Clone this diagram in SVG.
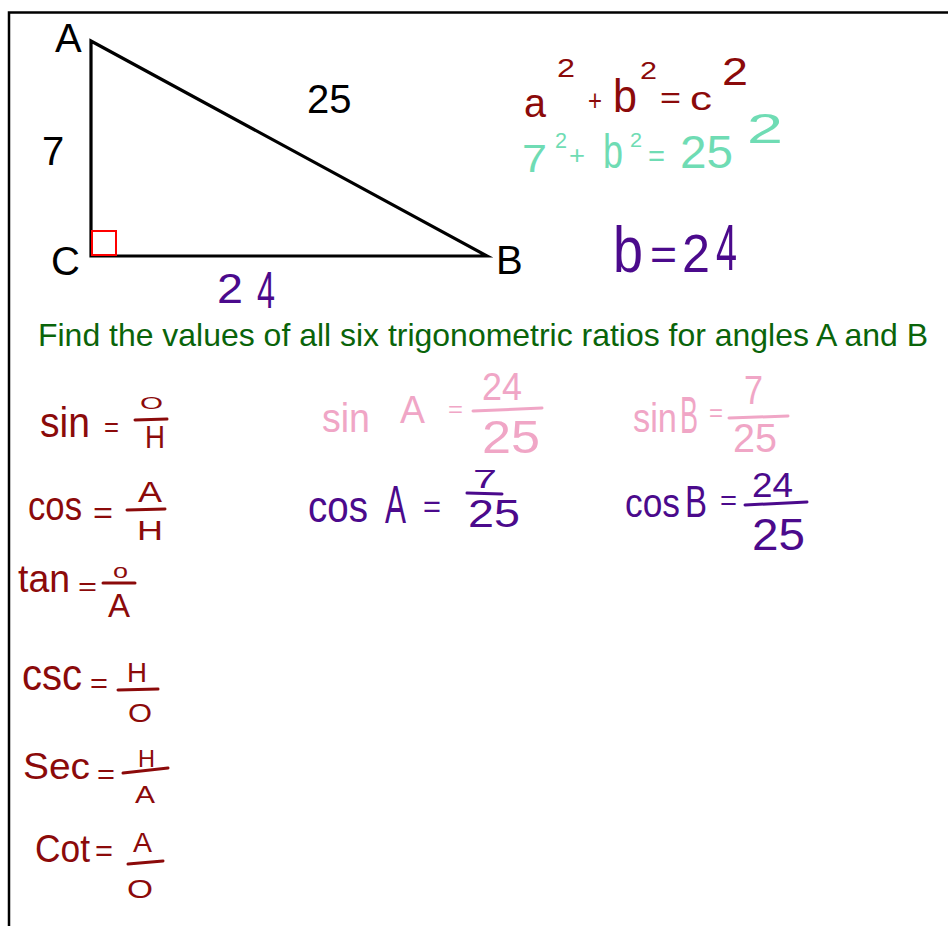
<svg xmlns="http://www.w3.org/2000/svg" width="948" height="926" viewBox="0 0 948 926">
<style>
text{font-family:"Liberation Sans",Arial,sans-serif;}
.lbl{font-size:40px;fill:#000;}
.red{fill:#8b0a0a;}
.teal{fill:#6fdcb4;}
.pur{fill:#4b0a8c;}
.pink{fill:#f0a6c6;}
.bar{fill:none;stroke-width:3;stroke-linecap:round;}
.bred{stroke:#8b0a0a;}
.bpur{stroke:#4b0a8c;}
.bpink{stroke:#f0a6c6;}
</style>
<rect width="948" height="926" fill="#fff"/>
<path d="M9,926 V12.5 H948" fill="none" stroke="#000" stroke-width="2.5"/>

<g id="triangle">
<path d="M91,41 L91,256 L487,256 Z" fill="none" stroke="#000" stroke-width="3.2" stroke-linejoin="miter" stroke-miterlimit="6"/>
<rect x="92" y="231" width="24" height="24" fill="none" stroke="#f00" stroke-width="2"/>
<text class="lbl" x="55" y="52">A</text>
<text class="lbl" x="42" y="165">7</text>
<text class="lbl" x="51" y="275">C</text>
<text class="lbl" x="496" y="274">B</text>
<text class="lbl" x="307" y="113">25</text>
<text class="pur" x="217" y="303" font-size="42" textLength="26" lengthAdjust="spacingAndGlyphs">2</text>
<text class="pur" x="257" y="308" font-size="52" textLength="18" lengthAdjust="spacingAndGlyphs">4</text>
</g>

<g id="pythagoras">
<text class="red" x="524" y="117" font-size="40" textLength="22" lengthAdjust="spacingAndGlyphs">a</text>
<text class="red" x="557" y="77" font-size="26" textLength="18" lengthAdjust="spacingAndGlyphs">2</text>
<text class="red" x="588" y="111" font-size="30" textLength="14" lengthAdjust="spacingAndGlyphs">+</text>
<text class="red" x="613" y="112" font-size="46" textLength="24" lengthAdjust="spacingAndGlyphs">b</text>
<text class="red" x="640" y="79" font-size="24" textLength="17" lengthAdjust="spacingAndGlyphs">2</text>
<text class="red" x="660" y="108" font-size="30" textLength="21" lengthAdjust="spacingAndGlyphs">=</text>
<text class="red" x="690" y="110" font-size="33" textLength="22" lengthAdjust="spacingAndGlyphs">c</text>
<text class="red" x="722" y="85" font-size="38" textLength="26" lengthAdjust="spacingAndGlyphs">2</text>

<text class="teal" x="522" y="172" font-size="38" textLength="25" lengthAdjust="spacingAndGlyphs">7</text>
<text class="teal" x="555" y="148" font-size="22" textLength="12" lengthAdjust="spacingAndGlyphs">2</text>
<text class="teal" x="569" y="164" font-size="26" textLength="16" lengthAdjust="spacingAndGlyphs">+</text>
<text class="teal" x="603" y="168" font-size="48" textLength="20" lengthAdjust="spacingAndGlyphs">b</text>
<text class="teal" x="630" y="147" font-size="20" textLength="12" lengthAdjust="spacingAndGlyphs">2</text>
<text class="teal" x="648" y="166" font-size="30" textLength="17" lengthAdjust="spacingAndGlyphs">=</text>
<text class="teal" x="680" y="168" font-size="46" textLength="53" lengthAdjust="spacingAndGlyphs">25</text>
<text class="teal" x="747" y="143" font-size="43" textLength="36" lengthAdjust="spacingAndGlyphs">2</text>

<text class="pur" x="613" y="272" font-size="64" textLength="30" lengthAdjust="spacingAndGlyphs">b</text>
<text class="pur" x="650" y="270" font-size="44" textLength="27" lengthAdjust="spacingAndGlyphs">=</text>
<text class="pur" x="682" y="272" font-size="54" textLength="28" lengthAdjust="spacingAndGlyphs">2</text>
<text class="pur" x="716" y="270" font-size="64" textLength="21" lengthAdjust="spacingAndGlyphs">4</text>
</g>

<text id="title" x="38" y="346" font-size="32" fill="#0a640a" textLength="890" lengthAdjust="spacingAndGlyphs">Find the values of all six trigonometric ratios for angles A and B</text>

<g id="definitions">
<text class="red" x="40" y="437" font-size="42" textLength="50" lengthAdjust="spacingAndGlyphs">sin</text>
<text class="red" x="104" y="437" font-size="28" textLength="15" lengthAdjust="spacingAndGlyphs">=</text>
<path class="bar bred" d="M135,420 L167,419"/>
<text class="red" x="140" y="409" font-size="16" textLength="23" lengthAdjust="spacingAndGlyphs">O</text>
<text class="red" x="145" y="448" font-size="32" textLength="20" lengthAdjust="spacingAndGlyphs">H</text>

<text class="red" x="28" y="520" font-size="40" textLength="54" lengthAdjust="spacingAndGlyphs">cos</text>
<text class="red" x="93" y="523" font-size="30" textLength="20" lengthAdjust="spacingAndGlyphs">=</text>
<path class="bar bred" d="M127,510 L165,509"/>
<text class="red" x="138" y="502" font-size="30" textLength="24" lengthAdjust="spacingAndGlyphs">A</text>
<text class="red" x="137" y="540" font-size="28" textLength="26" lengthAdjust="spacingAndGlyphs">H</text>

<text class="red" x="18" y="592" font-size="38" textLength="52" lengthAdjust="spacingAndGlyphs">tan</text>
<text class="red" x="78" y="595" font-size="26" textLength="19" lengthAdjust="spacingAndGlyphs">=</text>
<path class="bar bred" d="M103,583 L135,583"/>
<text class="red" x="113" y="578" font-size="20" textLength="15" lengthAdjust="spacingAndGlyphs">o</text>
<text class="red" x="108" y="617" font-size="33" textLength="22" lengthAdjust="spacingAndGlyphs">A</text>

<text class="red" x="22" y="690" font-size="44" textLength="60" lengthAdjust="spacingAndGlyphs">csc</text>
<text class="red" x="90" y="693" font-size="28" textLength="18" lengthAdjust="spacingAndGlyphs">=</text>
<path class="bar bred" d="M118,690 L158,689"/>
<text class="red" x="127" y="682" font-size="27" textLength="20" lengthAdjust="spacingAndGlyphs">H</text>
<text class="red" x="128" y="722" font-size="26" textLength="24" lengthAdjust="spacingAndGlyphs">O</text>

<text class="red" x="23" y="779" font-size="37" textLength="67" lengthAdjust="spacingAndGlyphs">Sec</text>
<text class="red" x="97" y="784" font-size="28" textLength="18" lengthAdjust="spacingAndGlyphs">=</text>
<path class="bar bred" d="M123,773 L168,768"/>
<text class="red" x="138" y="767" font-size="24" textLength="17" lengthAdjust="spacingAndGlyphs">H</text>
<text class="red" x="135" y="803" font-size="24" textLength="20" lengthAdjust="spacingAndGlyphs">A</text>

<text class="red" x="35" y="862" font-size="38" textLength="55" lengthAdjust="spacingAndGlyphs">Cot</text>
<text class="red" x="95" y="861" font-size="30" textLength="18" lengthAdjust="spacingAndGlyphs">=</text>
<path class="bar bred" d="M128,864 L163,861"/>
<text class="red" x="133" y="852" font-size="27" textLength="19" lengthAdjust="spacingAndGlyphs">A</text>
<text class="red" x="127" y="898" font-size="25" textLength="26" lengthAdjust="spacingAndGlyphs">O</text>
</g>

<g id="answers">
<text class="pink" x="322" y="432" font-size="40" textLength="48" lengthAdjust="spacingAndGlyphs">sin</text>
<text class="pink" x="400" y="423" font-size="38" textLength="25" lengthAdjust="spacingAndGlyphs">A</text>
<text class="pink" x="448" y="417" font-size="22" textLength="15" lengthAdjust="spacingAndGlyphs">=</text>
<path class="bar bpink" d="M473,411 L542,408"/>
<text class="pink" x="482" y="400" font-size="38" textLength="40" lengthAdjust="spacingAndGlyphs">24</text>
<text class="pink" x="482" y="453" font-size="46" textLength="58" lengthAdjust="spacingAndGlyphs">25</text>

<text class="pink" transform="translate(633,432) scale(0.86,1)" font-size="40">sin</text>
<text class="pink" transform="translate(680,433) scale(0.52,1)" font-size="52">B</text>
<text class="pink" x="709" y="421" font-size="24">=</text>
<path class="bar bpink" d="M729,418 L788,416"/>
<text class="pink" x="744" y="404" font-size="40" textLength="19" lengthAdjust="spacingAndGlyphs">7</text>
<text class="pink" x="733" y="452" font-size="40" textLength="44" lengthAdjust="spacingAndGlyphs">25</text>

<text class="pur" x="308" y="522" font-size="44" textLength="60" lengthAdjust="spacingAndGlyphs">cos</text>
<text class="pur" x="385" y="523" font-size="54" textLength="21" lengthAdjust="spacingAndGlyphs">A</text>
<text class="pur" x="423" y="517" font-size="32" textLength="18" lengthAdjust="spacingAndGlyphs">=</text>
<path class="bar bpur" d="M467,493 L502,494"/>
<text class="pur" x="473" y="488" font-size="25" textLength="24" lengthAdjust="spacingAndGlyphs">7</text>
<text class="pur" x="468" y="527" font-size="38" textLength="52" lengthAdjust="spacingAndGlyphs">25</text>

<text class="pur" x="625" y="517" font-size="40" textLength="55" lengthAdjust="spacingAndGlyphs">cos</text>
<text class="pur" x="685" y="517" font-size="44" textLength="22" lengthAdjust="spacingAndGlyphs">B</text>
<text class="pur" x="720" y="510" font-size="28" textLength="17" lengthAdjust="spacingAndGlyphs">=</text>
<path class="bar bpur" d="M745,505 L807,502"/>
<text class="pur" x="752" y="497" font-size="35" textLength="41" lengthAdjust="spacingAndGlyphs">24</text>
<text class="pur" x="752" y="550" font-size="44" textLength="53" lengthAdjust="spacingAndGlyphs">25</text>
</g>
</svg>
